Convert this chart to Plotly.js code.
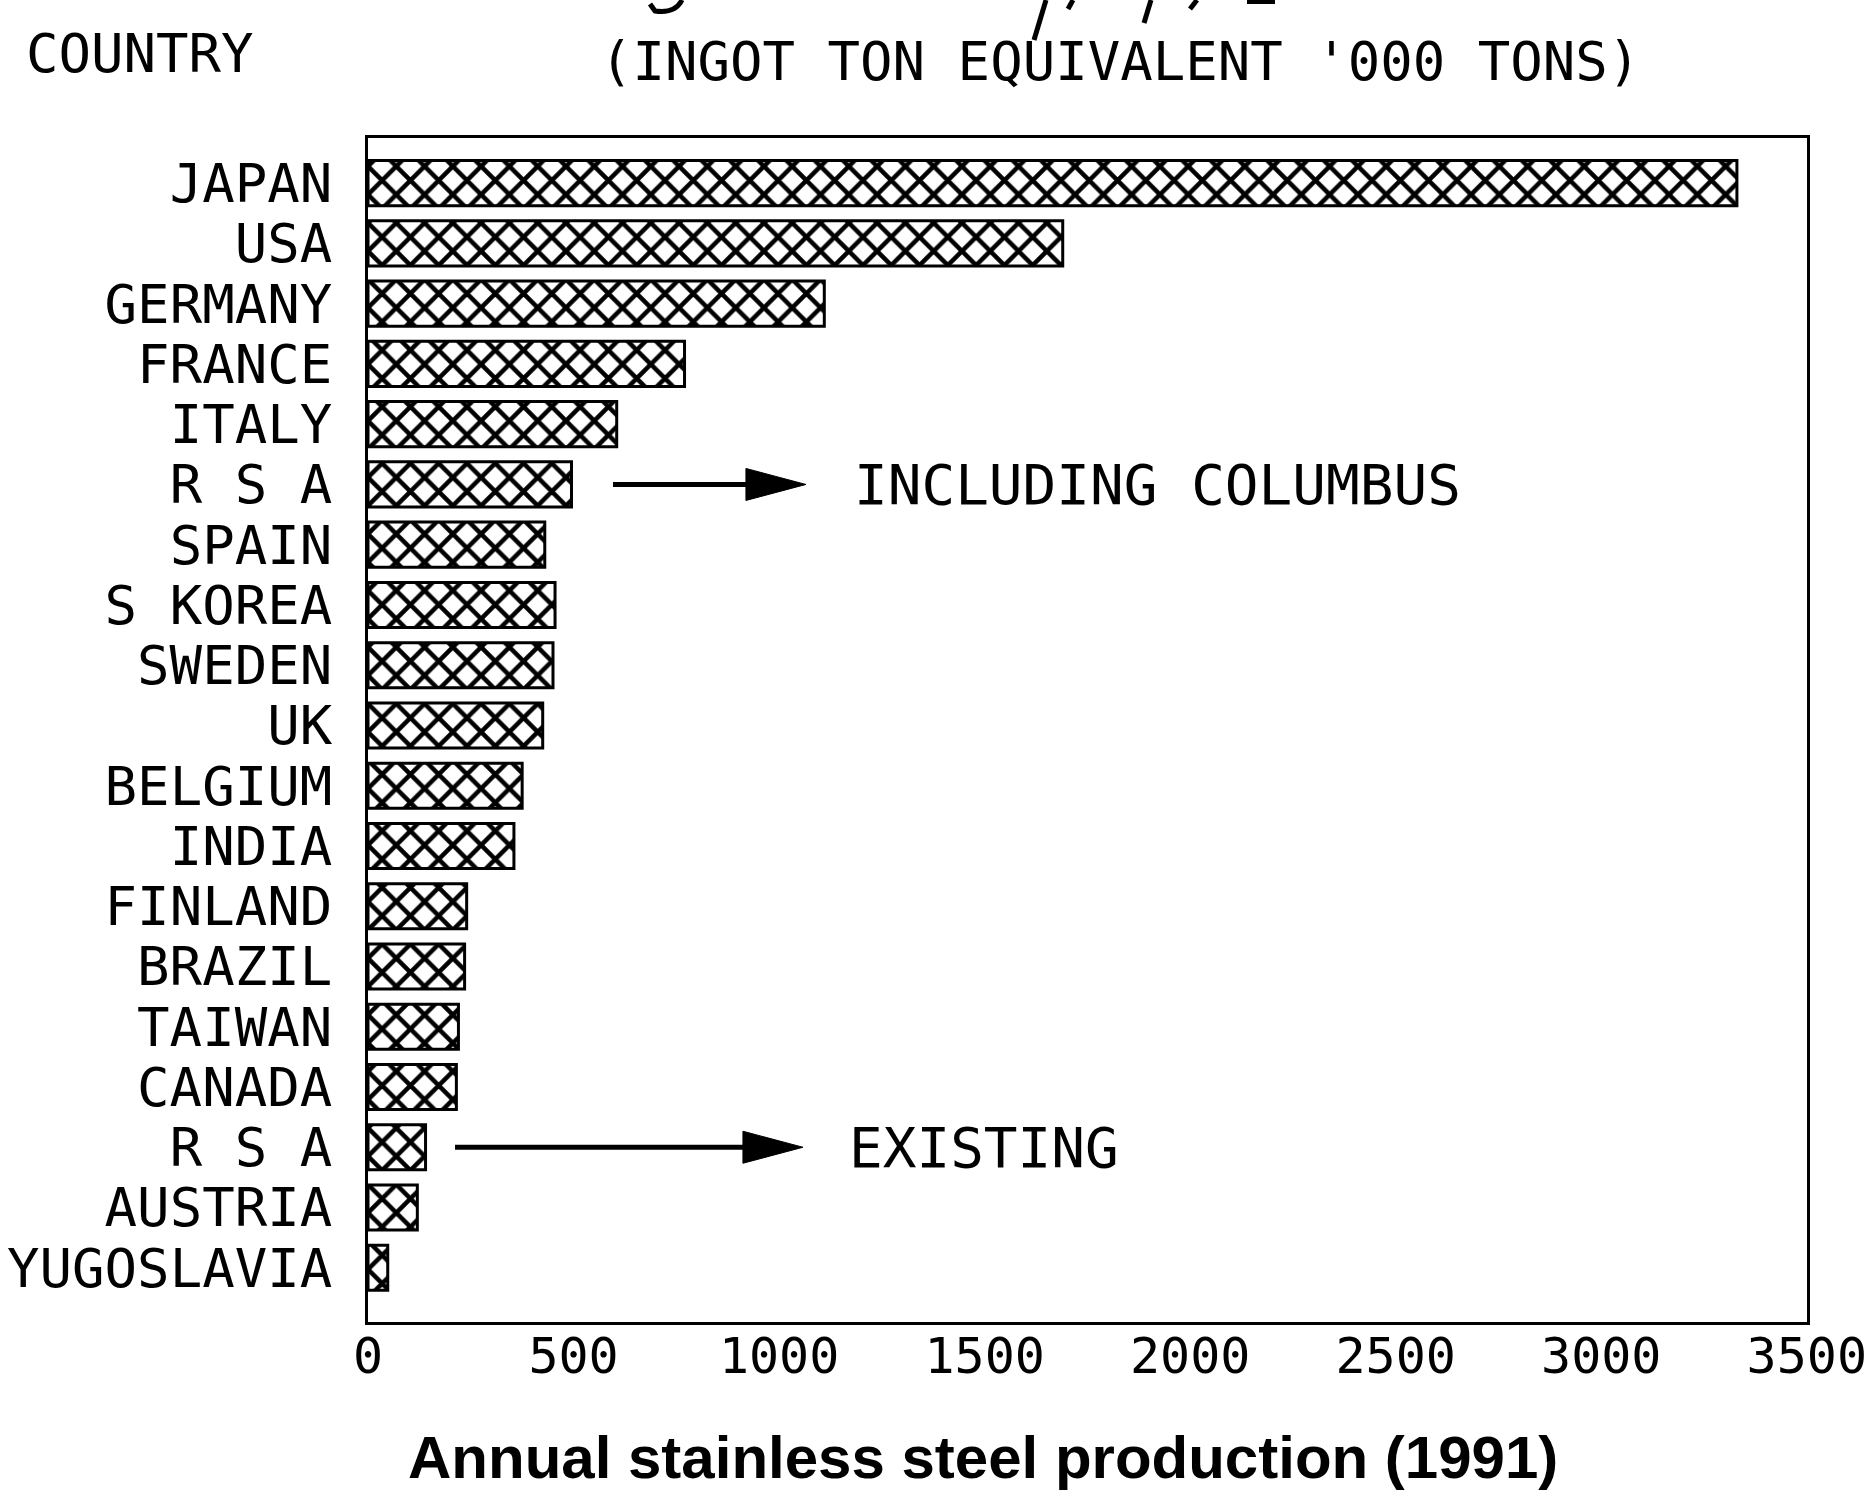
<!DOCTYPE html>
<html>
<head>
<meta charset="utf-8">
<script src="https://cdn.plot.ly/plotly-3.0.1.min.js"></script>
<style>
  html, body { margin: 0; padding: 0; background: #ffffff; }
  #chart { width: 1870px; height: 1502px; }
</style>
</head>
<body>
<div id="chart"></div>
<script>
// ---- Data ----
const countries = ['JAPAN', 'USA', 'GERMANY', 'FRANCE', 'ITALY', 'R S A', 'SPAIN', 'S KOREA',
  'SWEDEN', 'UK', 'BELGIUM', 'INDIA', 'FINLAND', 'BRAZIL', 'TAIWAN', 'CANADA', 'R S A',
  'AUSTRIA', 'YUGOSLAVIA'];
const production = [3330, 1690, 1110, 770, 605, 495, 430, 455, 450, 425, 375, 355, 240, 235,
  220, 215, 140, 120, 48];
const xTickValues = [0, 500, 1000, 1500, 2000, 2500, 3000, 3500];
const headerLeft = 'COUNTRY';
const headerUnits = "(INGOT TON EQUIVALENT '000 TONS)";
const xTitle = 'Annual stainless steel production (1991)';
const noteIncluding = 'INCLUDING COLUMBUS';
const noteExisting = 'EXISTING';
const rsaIncludingIndex = 5;
const rsaExistingIndex = 16;

// ---- Layout geometry ----
const W = 1870, H = 1502;
const M = { l: 368, r: 63, t: 138, b: 180 };
const plotW = W - M.l - M.r, plotH = H - M.t - M.b;
const px = x => (x - M.l) / plotW;          // page pixel x -> paper
const py = y => (H - M.b - y) / plotH;      // page pixel y -> paper

const mono = 'DejaVu Sans Mono, Liberation Mono, monospace';
const positions = countries.map((c, i) => i);

const trace = {
  type: 'bar',
  orientation: 'h',
  x: production,
  y: positions,
  width: 0.75,
  marker: {
    color: '#ffffff',
    line: { color: '#000000', width: 3 },
    pattern: { shape: 'x', fgcolor: '#000000', bgcolor: '#ffffff', size: 20, solidity: 0.4 }
  },
  hoverinfo: 'skip'
};

function arrowShapes(tailX, tipX, yIdx) {
  return [
    { type: 'line', xref: 'x', yref: 'y', x0: tailX, x1: tipX - 60, y0: yIdx, y1: yIdx,
      line: { color: '#000000', width: 5 } },
    { type: 'path', xref: 'x', yref: 'y', xsizemode: 'pixel', ysizemode: 'pixel',
      xanchor: tipX, yanchor: yIdx, path: 'M-60,-16 L0,0 L-60,16 Z',
      fillcolor: '#000000', line: { color: '#000000', width: 1 } }
  ];
}

// handwriting fragments cut off at the top edge of the scan
const scribble = [
  { type: 'line', xref: 'paper', yref: 'paper', x0: px(1046), y0: py(0), x1: px(1034), y1: py(40), line: { color: '#000', width: 5 } },
  { type: 'line', xref: 'paper', yref: 'paper', x0: px(1073), y0: py(0), x1: px(1068), y1: py(9), line: { color: '#000', width: 5 } },
  { type: 'line', xref: 'paper', yref: 'paper', x0: px(1151), y0: py(0), x1: px(1144), y1: py(23), line: { color: '#000', width: 5 } },
  { type: 'line', xref: 'paper', yref: 'paper', x0: px(1197), y0: py(0), x1: px(1190), y1: py(9), line: { color: '#000', width: 5 } },
  { type: 'line', xref: 'paper', yref: 'paper', x0: px(1247), y0: py(2), x1: px(1275), y1: py(2), line: { color: '#000', width: 4 } },
  { type: 'path', xref: 'paper', yref: 'paper',
    path: 'M' + px(682) + ',' + py(0) + ' Q' + px(675) + ',' + py(14) + ' ' + px(655) + ',' + py(11) + ' L' + px(650) + ',' + py(4),
    line: { color: '#000', width: 5 } }
];

const xScale = plotW / 3500;
const layout = {
  width: W, height: H,
  margin: { l: M.l, r: M.r, t: M.t, b: M.b, pad: 0, autoexpand: false },
  paper_bgcolor: '#ffffff', plot_bgcolor: '#ffffff',
  showlegend: false,
  bargap: 0.25,
  font: { family: mono, color: '#000000', size: 54 },
  xaxis: {
    range: [0, 3500.5], tickvals: xTickValues, ticks: '', showgrid: false, zeroline: false,
    showline: true, mirror: true, linecolor: '#000000', linewidth: 3,
    tickfont: { family: mono, size: 50, color: '#000000' }, ticklabelstandoff: -12,
    fixedrange: true
  },
  yaxis: {
    range: [18.9, -0.75], tickvals: positions, ticktext: countries, ticks: '',
    showgrid: false, zeroline: false, showline: true, mirror: true,
    linecolor: '#000000', linewidth: 3,
    tickfont: { family: mono, size: 54, color: '#000000' }, ticklabelstandoff: 22,
    fixedrange: true
  },
  annotations: [
    { text: headerLeft, xref: 'paper', yref: 'paper', x: px(24), y: py(54), xanchor: 'left', yanchor: 'middle', showarrow: false, font: { family: mono, size: 54, color: '#000' } },
    { text: headerUnits, xref: 'paper', yref: 'paper', x: px(598), y: py(62), xanchor: 'left', yanchor: 'middle', showarrow: false, font: { family: mono, size: 54, color: '#000' } },
    { text: noteIncluding, xref: 'x', yref: 'y', x: (852 - M.l) / xScale, y: rsaIncludingIndex, xanchor: 'left', yanchor: 'middle', showarrow: false, font: { family: mono, size: 56, color: '#000' } },
    { text: noteExisting, xref: 'x', yref: 'y', x: (847 - M.l) / xScale, y: rsaExistingIndex, xanchor: 'left', yanchor: 'middle', showarrow: false, font: { family: mono, size: 56, color: '#000' } },
    { text: '<b>' + xTitle + '</b>', xref: 'paper', yref: 'paper', x: px(983), y: py(1457), xanchor: 'center', yanchor: 'middle', showarrow: false,
      font: { family: 'Liberation Sans, Arial, sans-serif', size: 60, color: '#000' } }
  ],
  shapes: [].concat(
    arrowShapes((613 - M.l) / xScale, (806 - M.l) / xScale, rsaIncludingIndex),
    arrowShapes((455 - M.l) / xScale, (803 - M.l) / xScale, rsaExistingIndex),
    scribble
  )
};

Plotly.newPlot('chart', [trace], layout, { displayModeBar: false, staticPlot: true });
</script>
</body>
</html>
